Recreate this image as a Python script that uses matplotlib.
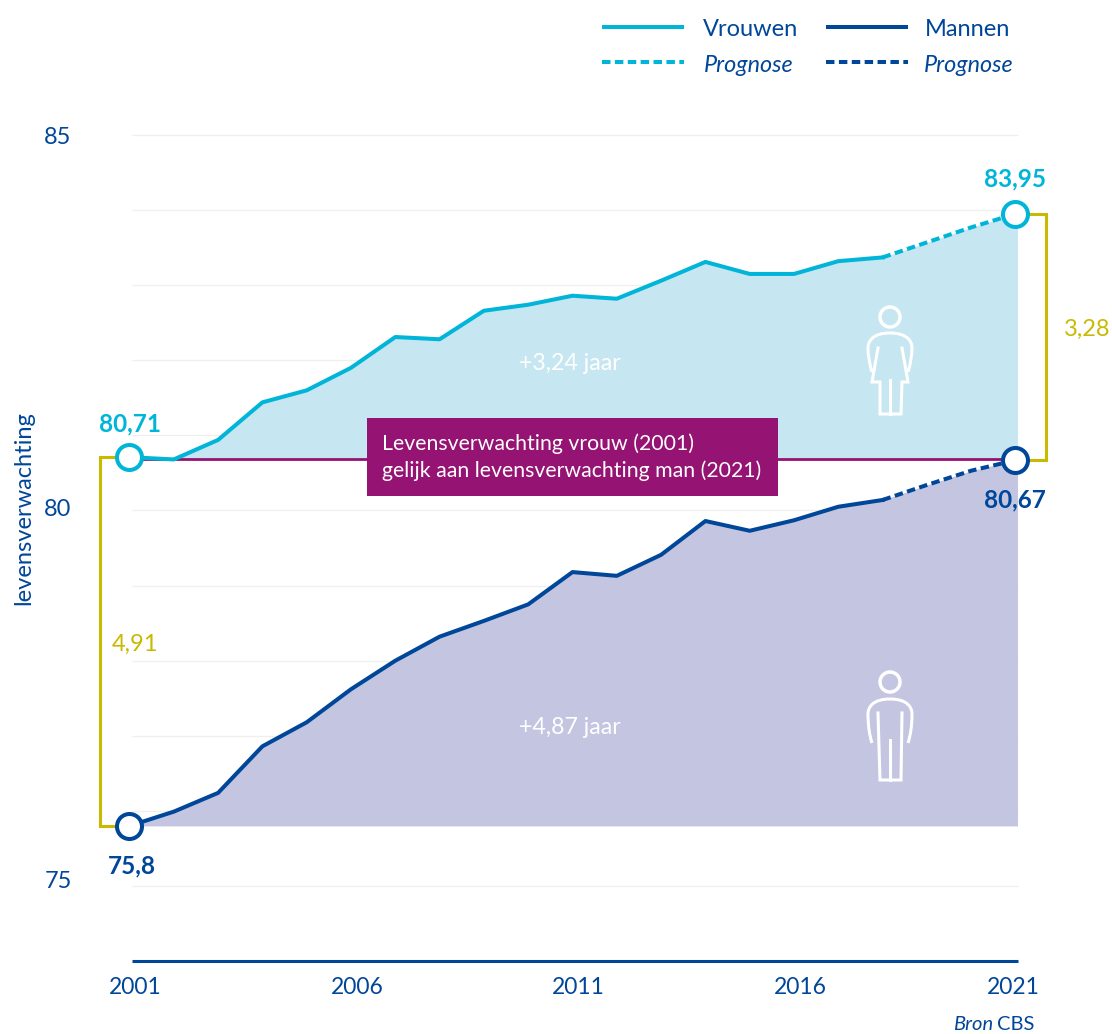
import matplotlib
matplotlib.use('Agg')
import matplotlib.pyplot as plt
from matplotlib.patches import Circle, Rectangle, PathPatch
from matplotlib.path import Path

plt.rcParams['font.family'] = ['Lato', 'DejaVu Sans']

# data
jaren = [2001, 2002, 2003, 2004, 2005, 2006, 2007, 2008, 2009, 2010, 2011,
         2012, 2013, 2014, 2015, 2016, 2017, 2018]
vrouwen = [80.71, 80.68, 80.94, 81.44, 81.60, 81.90, 82.31, 82.28, 82.66, 82.74, 82.86,
           82.82, 83.06, 83.31, 83.15, 83.15, 83.32, 83.37]
mannen = [75.80, 75.99, 76.24, 76.86, 77.18, 77.62, 78.00, 78.32, 78.53, 78.75, 79.18,
          79.13, 79.41, 79.86, 79.73, 79.87, 80.05, 80.14]

prognose_jaren = [2018, 2019, 2020, 2021]
vrouwen_prognose = [83.37, 83.57, 83.77, 83.95]
mannen_prognose = [80.14, 80.34, 80.53, 80.67]

grid_waarden = [75, 76, 77, 78, 79, 80, 81, 82, 83, 84, 85]
x_ticks = [2001, 2006, 2011, 2016, 2021]

BLAUW = '#00b5d8'
NAVY = '#004699'
LICHTBLAUW = '#c6e6f2'
LILA = '#c3c5e1'
PAARS = '#951372'
GOUD = '#c9b900'

W, H = 1112, 1034
fig = plt.figure(figsize=(W / 100, H / 100), dpi=100)
fig.patch.set_facecolor('white')

# schaal: 2001 op x=130, 2021 op x=1016, 85 op y=135, 75 op y=886
px_jaar = (1015.5 - 129.5) / 20
px_eenheid = (886 - 135) / 10
ax = fig.add_axes([0, 0, 1, 1])
ax.set_xlim(2001 - 129.5 / px_jaar, 2001 + (W - 129.5) / px_jaar)
ax.set_ylim(85 - (H - 135) / px_eenheid, 85 + 135 / px_eenheid)
ax.axis('off')

x_links = 2001 + 3 / px_jaar
x_rechts = 2021 + 2 / px_jaar

for g in grid_waarden:
    ax.plot([x_links, x_rechts], [g, g], color='#efefef', lw=0.9, zorder=1, solid_capstyle='butt')

# vlakken
alle_jaren = jaren + prognose_jaren[1:] + [x_rechts]
v_alle = vrouwen + vrouwen_prognose[1:] + [vrouwen_prognose[-1]]
m_alle = mannen + mannen_prognose[1:] + [mannen_prognose[-1]]
ax.fill_between(alle_jaren, vrouwen[0] - 0.03, v_alle, color=LICHTBLAUW, lw=0, zorder=2)
ax.fill_between(alle_jaren, mannen[0], m_alle, color=LILA, lw=0, zorder=2)

# paarse lijn en goudkleurige haken
ax.plot([2001, 2021], [vrouwen[0] - 0.02, vrouwen[0] - 0.02], color=PAARS, lw=2, zorder=3)
ax.plot([2001, 2001 - 29.5 / px_jaar, 2001 - 29.5 / px_jaar, 2001],
        [vrouwen[0], vrouwen[0], mannen[0], mannen[0]], color=GOUD, lw=2.2, zorder=3,
        solid_joinstyle='miter')
ax.plot([2021, 2021 + 31 / px_jaar, 2021 + 31 / px_jaar, 2021],
        [vrouwen_prognose[-1], vrouwen_prognose[-1], mannen_prognose[-1], mannen_prognose[-1]],
        color=GOUD, lw=2.2, zorder=3, solid_joinstyle='miter')

# lijnen
ax.plot(jaren, vrouwen, color=BLAUW, lw=2.9, zorder=4)
ax.plot(jaren, mannen, color=NAVY, lw=2.9, zorder=4)
ax.plot(prognose_jaren, vrouwen_prognose, color=BLAUW, lw=2.9, zorder=4, dashes=(2.1, 1.1))
ax.plot(prognose_jaren, mannen_prognose, color=NAVY, lw=2.9, zorder=4, dashes=(2.1, 1.1))

# eindpunten
for x, y, c in [(2001, vrouwen[0], BLAUW), (2021, vrouwen_prognose[-1], BLAUW),
                (2001, mannen[0], NAVY), (2021, mannen_prognose[-1], NAVY)]:
    ax.plot([x], [y], marker='o', ms=18, mfc='white', mec=c, mew=2.9, zorder=5)

# x-as
ax.plot([x_links, x_rechts], [74, 74], color=NAVY, lw=2.2, zorder=3, solid_capstyle='butt')

for t in x_ticks:
    verschuiving = -2 if t == 2021 else 6
    ax.text(t + verschuiving / px_jaar, 73.65, str(t), color=NAVY, fontsize=16.5, ha='center', va='center')

# overlay in pixels voor tekst, legenda en iconen
ov = fig.add_axes([0, 0, 1, 1], facecolor='none')
ov.set_xlim(0, W)
ov.set_ylim(H, 0)
ov.axis('off')

ov.text(58, 138, '85', color=NAVY, fontsize=17, ha='center', va='center')
ov.text(58, 509, '80', color=NAVY, fontsize=17, ha='center', va='center')
ov.text(58, 881, '75', color=NAVY, fontsize=17, ha='center', va='center')

ov.text(24, 508, 'levensverwachting', color=NAVY, fontsize=17, rotation=90, ha='center', va='center')
ov.text(130, 424, '80,71', color=BLAUW, fontsize=17.5, fontweight='bold', ha='center', va='center')
ov.text(1015, 179, '83,95', color=BLAUW, fontsize=17.5, fontweight='bold', ha='center', va='center')
ov.text(132, 866, '75,8', color=NAVY, fontsize=17.5, fontweight='bold', ha='center', va='center')
ov.text(1015, 500, '80,67', color=NAVY, fontsize=17.5, fontweight='bold', ha='center', va='center')
ov.text(135, 644, '4,91', color=GOUD, fontsize=17, ha='center', va='center')
ov.text(1087, 329, '3,28', color=GOUD, fontsize=17, ha='center', va='center')
ov.text(570, 363, '+3,24 jaar', color='white', fontsize=16.7, ha='center', va='center')
ov.text(570, 727, '+4,87 jaar', color='white', fontsize=16.7, ha='center', va='center')
ov.text(993, 1025, 'Bron', color=NAVY, fontsize=14.5, style='italic', ha='right', va='center')
ov.text(997, 1025, 'CBS', color=NAVY, fontsize=14.5, ha='left', va='center')

# paarse tekstbalk
ov.add_patch(Rectangle((367, 418), 411, 78, color=PAARS, lw=0, zorder=3))
ov.text(382, 444, 'Levensverwachting vrouw (2001)', color='white', fontsize=15.3, va='center', zorder=4)
ov.text(382, 471, 'gelijk aan levensverwachting man (2021)', color='white', fontsize=15.3, va='center', zorder=4)

# legenda
ov.plot([602, 684], [27, 27], color=BLAUW, lw=2.9, solid_capstyle='butt')
ov.plot([602, 684], [62, 62], color=BLAUW, lw=2.9, dashes=(2.1, 1.1))
ov.plot([826, 908], [27, 27], color=NAVY, lw=2.9, solid_capstyle='butt')
ov.plot([826, 908], [62, 62], color=NAVY, lw=2.9, dashes=(2.1, 1.1))
ov.text(703, 29, 'Vrouwen', color=NAVY, fontsize=17, va='center')
ov.text(925, 29, 'Mannen', color=NAVY, fontsize=17, va='center')
ov.text(704, 65, 'Prognose', color=NAVY, fontsize=16.8, style='italic', va='center')
ov.text(924, 65, 'Prognose', color=NAVY, fontsize=16.8, style='italic', va='center')


# iconen
def schouders(cx, top, arm):
    verts = [(cx - 18, top + arm), (cx - 22, top + arm - 12), (cx - 22, top + 15),
             (cx - 22, top + 8), (cx - 17, top), (cx, top),
             (cx + 17, top), (cx + 22, top + 8), (cx + 22, top + 15),
             (cx + 22, top + arm - 12), (cx + 18, top + arm)]
    codes = [Path.MOVETO, Path.CURVE3, Path.LINETO, Path.CURVE4, Path.CURVE4, Path.CURVE4,
             Path.CURVE4, Path.CURVE4, Path.CURVE4, Path.CURVE3, Path.LINETO]
    ov.add_patch(PathPatch(Path(verts, codes), fc='none', ec='white', lw=2.2, zorder=3))


# vrouw
ov.add_patch(Circle((890, 317), 10, fc='none', ec='white', lw=2.5, zorder=3))
schouders(890, 333, 39)
ov.plot([878, 872, 880, 880, 901, 902, 908, 902],
        [348, 382, 382, 414, 414, 382, 382, 348], color='white', lw=2.2, zorder=3, solid_joinstyle='miter')
ov.plot([890, 890], [380, 414], color='white', lw=2.2, zorder=3)
# man
ov.add_patch(Circle((890, 682), 10, fc='none', ec='white', lw=2.5, zorder=3))
schouders(890, 699, 44)
ov.plot([878, 880, 901, 902], [713, 780, 780, 713], color='white', lw=2.2, zorder=3, solid_joinstyle='miter')
ov.plot([890, 890], [740, 780], color='white', lw=2.2, zorder=3)

fig.savefig('out.png', dpi=100)
